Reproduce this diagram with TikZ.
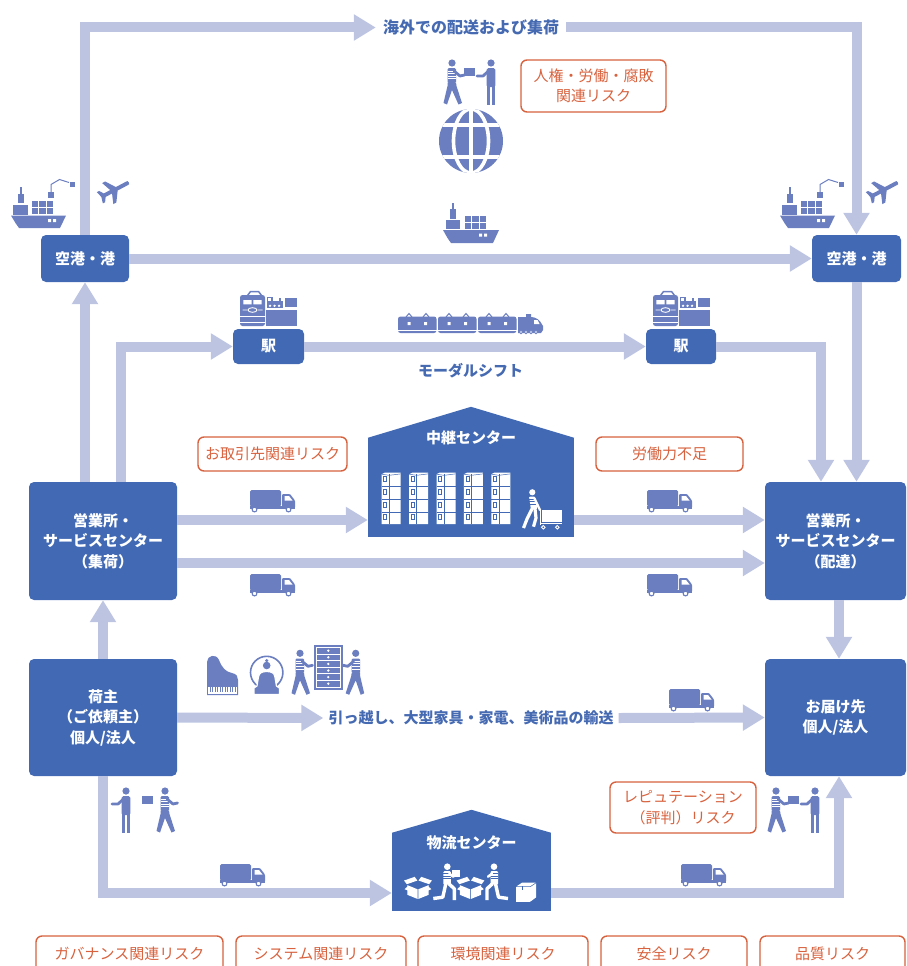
\documentclass[tikz,border=0pt]{standalone}
\usepackage{fontspec}
\setmainfont{Noto Sans CJK JP}
\usetikzlibrary{arrows.meta}

\definecolor{boxblue}{RGB}{66,106,180}
\definecolor{flow}{RGB}{188,196,226}
\definecolor{iconc}{RGB}{106,126,192}
\definecolor{risk}{RGB}{216,98,62}
\definecolor{labelblue}{RGB}{70,106,178}

\tikzset{
  place/.style={fill=boxblue, rounded corners=5pt, text=white,
    font=\fontsize{15pt}{20.5pt}\selectfont\bfseries, align=center, inner sep=0pt},
  riskbox/.style={draw=risk, line width=1.4pt, rounded corners=6pt, text=risk, fill=white,
    font=\fontsize{15pt}{20.5pt}\selectfont, align=center, inner sep=0pt},
  flowline/.style={draw=flow, line width=10pt, line join=miter},
  flowarrow/.style={flowline, -{Triangle[length=22pt,width=25pt]}},
  caption/.style={text=labelblue, font=\fontsize{15pt}{20pt}\selectfont\bfseries, inner sep=5pt},
  hall/.style={fill=boxblue, inner sep=0pt},
  halltitle/.style={text=white, font=\fontsize{15pt}{20pt}\selectfont\bfseries, inner sep=0pt},
  % delivery truck, origin at its top-left corner
  truck/.pic={
    \fill[iconc,rounded corners=1.5pt] (0,0) rectangle (31,16.5);
    \fill[iconc,rounded corners=1pt] (32,4) -- (40,4) -- (45,10.5) -- (45,18) -- (32,18) -- cycle;
    \fill[white] (34.5,6) -- (39,6) -- (42.5,10.5) -- (34.5,10.5) -- cycle;
    \fill[iconc] (0,15.5) rectangle (45,19);
    \filldraw[iconc,fill=white,line width=1.1pt] (4.5,19.5) circle (2.4) (38.5,19.5) circle (2.4);
  },
  % container ship beside a crane
  shipcrane/.pic={
    \fill[iconc] (9,10) rectangle (11,17);
    \fill[iconc] (7,17) rectangle (13,26);
    \fill[iconc] (2,28) rectangle (17,37.5);
    \foreach \cx in {21,28.3,35.6} \foreach \cy in {24,31} \fill[iconc] (\cx,\cy) rectangle ++(6.2,6.2);
    \fill[iconc] (37,15) rectangle (43,21);
    \draw[iconc,line width=1pt] (40,15) -- (40,7.5) -- (48.5,2.5) -- (58,5.5);
    \fill[iconc] (58.5,4.5) rectangle (64,10);
    \fill[iconc] (0,38.5) -- (55,38.5) -- (49,51) -- (8,51) .. controls (5,47) .. (0,38.5) -- cycle;
    \fill[white] (37,42) rectangle ++(3,3) (42,42) rectangle ++(3,3);
  },
  % container ship
  freighter/.pic={
    \fill[iconc] (9,0) rectangle (11,7);
    \fill[iconc] (7,6) rectangle (12.5,15.5);
    \fill[iconc] (3,17) rectangle (17,26);
    \foreach \cx in {22,29.3,36.6} \foreach \cy in {12.7,19.6} \fill[iconc] (\cx,\cy) rectangle ++(6.3,6.2);
    \fill[iconc] (0,27) -- (56,27) -- (50,40) -- (8,40) .. controls (5,36) .. (0,27) -- cycle;
    \fill[white] (36,30.5) rectangle ++(3,3) (41,30.5) rectangle ++(3,3);
  },
  % aeroplane, centred on its origin
  jet/.pic={
    \fill[iconc,rotate=28,scale=0.85] (19,0) .. controls (19,-2.3) .. (15,-2.3) -- (3,-2.3)
      -- (-5,-14) -- (-9,-14) -- (-4.5,-2.3) -- (-13,-2.3) -- (-16.5,-7.5) -- (-19.5,-7.5)
      -- (-17.5,0) -- (-19.5,7.5) -- (-16.5,7.5) -- (-13,2.3) -- (-4.5,2.3) -- (-9,14)
      -- (-5,14) -- (3,2.3) -- (15,2.3) .. controls (19,2.3) .. (19,0) -- cycle;
  },
  % walking worker in a striped shirt, origin at the head, facing right
  worker/.pic={
    \fill[iconc] (0,0) circle (3.6);
    \fill[iconc,rounded corners=1.2pt] (-4.5,5.2) rectangle (4,20);
    \foreach \yy in {8,10.6,13.2,15.8} \draw[white,line width=0.9pt] (-4.5,\yy) -- (4,\yy);
    \draw[iconc,line width=2.8pt,line cap=round,line join=round] (2,8) -- (8,13) -- (12.5,12);
    \fill[iconc] (-4.5,19.5) -- (4,19.5) -- (4.5,23) -- (10,40) -- (6.5,41.5) -- (0,27)
      -- (-5,41.5) -- (-8.5,40) -- (-4.5,23) -- cycle;
  },
  % standing person, origin at the head, reaching left
  person/.pic={
    \fill[iconc] (0,0) circle (3.6);
    \fill[iconc,rounded corners=1.5pt] (-4.3,5.2) rectangle (4.3,24);
    \draw[iconc,line width=2.8pt,line cap=round,line join=round] (-2.5,8) -- (-8,13) -- (-14,13);
    \fill[iconc] (-4.3,22) rectangle (-0.6,42);
    \fill[iconc] (0.6,22) rectangle (4.3,42);
  },
  % parcel handed from a worker to a person
  handover/.pic={
    \pic at (5,4) {worker};
    \fill[iconc] (17,9) rectangle (28,17);
    \pic at (44,4) {person};
  },
  % electric and steam locomotives above a platform
  station/.pic={
    \draw[iconc,line width=1.5pt] (7.5,5.5) -- (10.5,1.5) -- (18.5,1.5) -- (21.5,5.5);
    \fill[iconc,rounded corners=2.5pt] (0,5) rectangle (25,36);
    \fill[white] (3.3,10) rectangle (11.7,14.3) (13.3,10) rectangle (21.7,14.3);
    \draw[white,line width=0.9pt] (12.5,20) ellipse (4.5 and 2.3) (2.5,20) -- (7,20) (18,20) -- (22.5,20);
    \draw[white,line width=0.9pt] (0,26.7) -- (25,26.7) (0,32.3) -- (25,32.3);
    \fill[iconc] (26,19.5) rectangle (57,36);
    \fill[iconc] (26.7,6.5) rectangle (32.5,17.5);
    \fill[white] (28,8.2) rectangle (31.2,11);
    \fill[iconc] (32.5,10.5) rectangle (43.3,17.5);
    \fill[iconc] (38.5,7.5) rectangle (40.8,10.5);
    \fill[white] (30,15.8) circle (1.3) (34.5,15.8) circle (1.3) (39,15.8) circle (1.3);
    \fill[iconc] (45,7.7) rectangle (56.7,16.7);
  },
  % stack of four cartons
  boxstack/.pic={
    \fill[white] (0,1.5) -- (3,0) -- (19,0) -- (19,51.5) -- (0,51.5) -- cycle;
    \foreach \yy in {13.9,26.7,39.4} \draw[boxblue,line width=0.6pt] (0,\yy) -- (19,\yy);
    \draw[boxblue,line width=0.5pt] (7.5,1.5) -- (7.5,51.5);
    \foreach \yy in {3.5,16.3,29.1,41.8} \draw[boxblue,line width=0.45pt] (2,\yy) rectangle (5,\yy+5);
    \draw[boxblue,line width=0.5pt] (0,1.5) -- (7.5,2.6) -- (19,1.2);
  },
  % open carton
  openbox/.pic={
    \fill[white] (2.5,11) -- (13.6,15.5) -- (13.6,26) -- (2.5,21.5) -- cycle;
    \fill[white] (14.6,15.5) -- (25.7,11) -- (25.7,21.5) -- (14.6,26) -- cycle;
    \fill[white] (2,10) -- (-1,6) -- (10.5,2) -- (13.5,6) -- cycle;
    \fill[white] (26.2,10) -- (29.2,6) -- (17.7,2) -- (14.7,6) -- cycle;
    \fill[white] (3.2,12.2) -- (13.2,16.3) -- (9.5,19.5) -- (-0.5,15.4) -- cycle;
    \fill[white] (25,12.2) -- (15,16.3) -- (18.7,19.5) -- (28.7,15.4) -- cycle;
  },
  % kneeling worker, origin at the head, facing right
  kneeler/.pic={
    \fill[white] (0,0) circle (3.3);
    \fill[white,rounded corners=1pt] (-4,4.5) rectangle (3.5,18);
    \foreach \yy in {7,9.5,12} \draw[boxblue,line width=0.8pt] (-4,\yy) -- (3.5,\yy);
    \draw[white,line width=3.4pt,line join=round] (-1.5,17) -- (-4.5,30.5) -- (-14,31.8);
    \draw[white,line width=3.4pt,line join=round] (1.5,17) -- (7,22) -- (7,33.5);
    \draw[white,line width=2.5pt,line cap=round] (2,7) -- (6,10);
  },
}

\begin{document}
\begin{tikzpicture}[x=1pt,y=-1pt]
\useasboundingbox (0,0) rectangle (906,966);
\clip (0,0) rectangle (906,966);

% ---------- places ----------
\node[place, minimum width=88pt, minimum height=47pt] (ap1) at (85,258.5) {空港・港};
\node[place, minimum width=89pt, minimum height=47pt] (ap2) at (856.5,258.5) {空港・港};
\node[place, minimum width=71pt, minimum height=35pt] (st1) at (268.5,346.5) {駅};
\node[place, minimum width=70pt, minimum height=35pt] (st2) at (681,346.5) {駅};
\node[place, minimum width=148pt, minimum height=118pt] (eig1) at (103,541) {営業所・\\サービスセンター\\（集荷）};
\node[place, minimum width=141pt, minimum height=118pt] (eig2) at (835.5,541) {営業所・\\サービスセンター\\（配達）};
\node[place, minimum width=148pt, minimum height=117pt] (ninushi) at (103,717.5) {荷主\\（ご依頼主）\\個人/法人};
\node[place, minimum width=141pt, minimum height=117pt] (otodoke) at (835.5,717.5) {お届け先\\個人/法人};

% relay centre and logistics centre (walls plus roof)
\node[hall, minimum width=206pt, minimum height=99pt] (chukei) at (471,487.5) {};
\fill[boxblue] (chukei.north west) -- ([yshift=31pt]chukei.north) -- (chukei.north east) -- cycle;
\node[halltitle] (chukeiT) at (471,438) {中継センター};
\node[hall, minimum width=159pt, minimum height=78pt] (butsuryu) at (471.5,872) {};
\fill[boxblue] (butsuryu.north west) -- ([yshift=23pt]butsuryu.north) -- (butsuryu.north east) -- cycle;
\node[halltitle] (butsuryuT) at (471.5,843) {物流センター};

% ---------- captions ----------
\node[caption, font=\fontsize{16pt}{20pt}\selectfont\bfseries, inner sep=7pt] (kaigai) at (471,27.5) {海外での配送および集荷};
\node[caption] (modal) at (470.5,371) {モーダルシフト};
\node[caption] (move) at (471,718) {引っ越し、大型家具・家電、美術品の輸送};

% ---------- risks ----------
\node[riskbox, minimum width=145pt, minimum height=52pt] (rHuman) at (593.5,86) {人権・労働・腐敗\\関連リスク};
\node[riskbox, minimum width=149pt, minimum height=34pt] (rPartner) at (272.5,454) {お取引先関連リスク};
\node[riskbox, minimum width=147pt, minimum height=34pt] (rLabor) at (669.5,454) {労働力不足};
\node[riskbox, minimum width=146pt, minimum height=51pt] (rRep) at (683,807.5) {レピュテーション\\（評判）リスク};
\node[riskbox, minimum width=187pt, minimum height=36pt] (rGov) at (129.5,954) {ガバナンス関連リスク};
\node[riskbox, minimum width=170pt, minimum height=36pt] (rSys) at (321,954) {システム関連リスク};
\node[riskbox, minimum width=170pt, minimum height=36pt] (rEnv) at (503,954) {環境関連リスク};
\node[riskbox, minimum width=146pt, minimum height=36pt] (rSafe) at (674,954) {安全リスク};
\node[riskbox, minimum width=145pt, minimum height=36pt] (rQual) at (832.5,954) {品質リスク};

% ---------- flows ----------
\coordinate (rowA) at (0,520);
\coordinate (rowB) at (0,563);
\coordinate (rowC) at (0,893);

\draw[flowarrow] (ap1.north) |- (kaigai.west);
\draw[flowarrow] (kaigai.east) -| (ap2.north);
\draw[flowarrow] (ap1.east) -- (ap2.west);
\draw[flowarrow] (ap1.south |- eig1.north) -- (ap1.south);
\draw[flowarrow] ([xshift=18pt]eig1.north) |- (st1.west);
\draw[flowarrow] (st1.east) -- (st2.west);
\draw[flowarrow] (st2.east) -| ([xshift=-14.5pt]eig2.north);
\draw[flowarrow] (ap2.south) -- (ap2.south |- eig2.north);
\draw[flowarrow] (eig1.east |- rowA) -- (chukei.west |- rowA);
\draw[flowarrow] (chukei.east |- rowA) -- (eig2.west |- rowA);
\draw[flowarrow] (eig1.east |- rowB) -- (eig2.west |- rowB);
\draw[flowarrow] (ninushi.north) -- (eig1.south);
\draw[flowarrow] ([xshift=3.5pt]eig2.south) -- ([xshift=3.5pt]otodoke.north);
\draw[flowarrow] (ninushi.east) -- (move.west);
\draw[flowarrow] (move.east) -- (otodoke.west);
\draw[flowarrow] (ninushi.south) |- (butsuryu.west |- rowC);
\draw[flowarrow] (butsuryu.east |- rowC) -| ([xshift=3.5pt]otodoke.south);

% ---------- icons ----------
\pic at (11,177) {shipcrane};
\pic at (780,177) {shipcrane};
\pic at (114.5,190) {jet};
\pic at (883.5,190) {jet};
\pic at (443,203) {freighter};
\pic at (447,59) {handover};
\pic[xscale=-1] at (170,787) {handover};
\pic at (771,787) {handover};

% globe
\fill[iconc] (471,141) circle (32);
\begin{scope}
  \clip (471,141) circle (32);
  \draw[white,line width=3.6pt] (471,108) -- (471,174) (438,125.2) -- (504,125.2) (438,156.8) -- (504,156.8);
  \draw[white,line width=3.6pt] (471,141) ellipse (17.5 and 32);
\end{scope}

% stations and train
\pic at (240,290) {station};
\pic at (653,290) {station};
\begin{scope}[shift={(398,311)}]
  \foreach \ox in {0,40,80} {
    \draw[iconc,line width=1pt] (\ox+8,6) -- (\ox+11,2.5) -- (\ox+14,6);
    \draw[iconc,line width=1pt] (\ox+25,6) -- (\ox+28,2.5) -- (\ox+31,6);
    \fill[iconc,rounded corners=2.5pt] (\ox,5.5) rectangle (\ox+38.5,22);
    \fill[white] (\ox+9.5,11) rectangle (\ox+12.5,14) (\ox+26,11) rectangle (\ox+29,14);
    \fill[white] (\ox,18.5) rectangle (\ox+38.5,19.3);
  }
  \fill[iconc] (120,22) -- (120,6) -- (128,6) -- (128,3) -- (133,3) -- (133,6)
    .. controls (138,6) and (142,9) .. (145,15) -- (145,19) -- (143,22) -- cycle;
  \fill[white] (136,9) -- (139.5,9) -- (141.5,13) -- (136,13) -- cycle;
  \filldraw[white,draw=iconc,line width=0.8pt] (123,21) circle (1.8) (128,21) circle (1.8) (133,21) circle (1.8) (138,21) circle (1.8);
\end{scope}

% trucks
\pic at (250,490) {truck};
\pic at (250,574) {truck};
\pic at (647,490) {truck};
\pic at (647,574) {truck};
\pic at (669,689) {truck};
\pic at (220,864) {truck};
\pic at (681,864) {truck};

% goods inside the relay centre
\foreach \bx in {381.7,409.1,436.5,463.9,491.3} \pic at (\bx,472.7) {boxstack};
\begin{scope}[shift={(521,488)}]
  \fill[white] (11.3,4.3) circle (3.1);
  \fill[white,rounded corners=1pt] (8,8.5) -- (14,8.5) -- (16.5,21) -- (10,22) -- cycle;
  \foreach \yy in {11,13.5,16} \draw[boxblue,line width=0.7pt] (8,\yy) -- (16,\yy);
  \draw[white,line width=2.3pt,line cap=round] (13.5,10.5) -- (19,22);
  \draw[white,line width=3.2pt,line join=round] (11,21) -- (6,31) -- (2.5,40);
  \draw[white,line width=3.2pt,line join=round] (14,21) -- (15,30) -- (12.5,38.7);
  \fill[white] (20.7,22) rectangle (40.7,33.7);
  \draw[white,line width=1pt] (19,21) -- (19,37) (19,35.3) -- (40.7,35.3);
  \draw[white,line width=0.9pt] (22.3,39.3) circle (1.8) (36.3,39.3) circle (1.8);
\end{scope}

% goods inside the logistics centre
\pic[scale=0.92] at (405,875) {openbox};
\pic at (447.3,866.7) {kneeler};
\fill[white] (451.7,870) rectangle (460,876.7);
\pic[scale=0.92] at (457.5,875) {openbox};
\pic[xscale=-1] at (494,866.7) {kneeler};
\fill[white] (516,887.2) rectangle (529.5,901.7);
\fill[white] (530.2,887.2) -- (536,883.4) -- (536,897.4) -- (530.2,901.7) -- cycle;
\fill[white] (516.5,886.4) -- (522,882.7) -- (535.5,882.7) -- (530,886.4) -- cycle;
\draw[boxblue,line width=0.6pt] (522.5,886.4) -- (522.5,890);

% piano
\fill[iconc] (207,695) -- (207,662) .. controls (207,655.5) and (216,653) .. (219,660)
  .. controls (222,668) and (226,672) .. (232,673) .. controls (237,674) and (238,677) .. (238,680)
  -- (238,695) -- cycle;
\fill[white] (208.2,687) rectangle (236.8,694);
\foreach \kx in {210,212.5,215,217.5,220,222.5,225,227.5,230,232.5,235}
  \draw[iconc,line width=0.8pt] (\kx,687) -- (\kx,691.5);

% seated figure inside a ring
\draw[iconc,line width=1.6pt] (266.7,672.5) circle (16.2);
\filldraw[iconc,draw=white,line width=1.2pt] (254,694.5) -- (254,688) -- (257,686) -- (258.5,677)
  .. controls (259,673) and (262,671.5) .. (266.7,671.5) .. controls (271.4,671.5) and (274.4,673) .. (274.9,677)
  -- (276.4,686) -- (279.4,688) -- (279.4,694.5) -- cycle;
\fill[iconc] (266.7,665.5) circle (3.8) (266.7,660.6) circle (1.7);

% two workers carrying a cabinet
\pic at (300,653.3) {worker};
\pic[xscale=-1] at (355.7,653.3) {worker};
\fill[iconc] (314,645) rectangle (342.7,690);
\draw[white,line width=0.8pt] (316.5,647.5) rectangle (340.2,687.5);
\foreach \dy in {654,660.6,667.2,673.8,680.4} \draw[white,line width=0.8pt] (316.5,\dy) -- (340.2,\dy);
\foreach \dy in {650.7,657.3,663.9,670.5,677.1,683.7} \fill[white] (328.3,\dy) circle (1.3);

\end{tikzpicture}
\end{document}
